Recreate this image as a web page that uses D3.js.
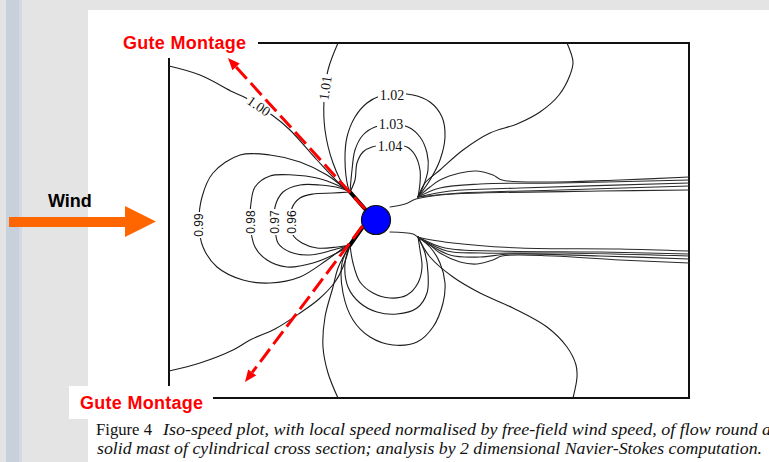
<!DOCTYPE html>
<html><head><meta charset="utf-8">
<script src="https://cdn.jsdelivr.net/npm/d3@7"></script>
<style>html,body{margin:0;padding:0;background:#e5e5e5;overflow:hidden}</style>
</head><body>
<svg id="c" width="769" height="462"></svg>
<script>
// ---- data (plot units: cylinder centre at 0,0) ----
const xDomain = [-20.7, 31.3];
const yDomain = [-17.8, 17.7];
const cylinder = {x: 0, y: 0, r: 1.45};

const line100U = [[-20.7,15.4],[-17.6,14.5],[-14.3,12.8],[-13.0,12.2],[-11.7,11.3],[-10.4,10.5],[-8.6,9.0],[-5.9,6.0],[-3.3,3.3],[-2.6,2.8]];
const line101U = [[-3.8,17.7],[-4.8,15.0],[-5.2,12.0],[-5.1,9.0],[-4.3,5.7],[-3.0,3.1],[-2.6,2.8]];
const line102U = [[-2.6,2.8],[-2.8,3.3],[-3.1,6.0],[-2.9,8.3],[-2.1,10.3],[-0.9,11.7],[0.4,12.4],[1.6,12.6],[3.7,12.5],[5.4,11.8],[6.6,10.3],[6.9,8.3],[6.4,6.0],[5.4,4.0],[4.2,2.3]];
const line103U = [[-2.6,2.8],[-2.4,5.0],[-2.1,7.0],[-1.3,8.5],[-0.1,9.3],[1.5,9.6],[3.2,9.3],[4.4,8.3],[5.1,6.7],[5.2,5.0],[4.7,3.3],[4.2,2.3]];
const line104U = [[-2.6,2.8],[-2.1,4.0],[-1.9,5.7],[-1.3,6.8],[-0.4,7.3],[1.4,7.5],[3.1,7.3],[3.9,6.5],[4.4,5.0],[4.4,3.7],[4.2,2.3]];
const line101RU = [[4.2,2.3],[4.9,3.7],[6.4,5.0],[8.7,7.0],[11.4,8.7],[14.1,9.6],[16.4,10.8],[18.3,12.5],[19.4,14.5],[19.7,15.8],[19.1,17.7]];

const line100L = [[-2.6,-2.5],[-3.3,-4.7],[-4.1,-6.2],[-5.7,-7.9],[-7.6,-9.3],[-10.1,-10.9],[-12.6,-12.0],[-14.3,-13.0],[-17.6,-14.3],[-20.7,-15.1]];
const line101L = [[-2.6,-2.5],[-3.8,-4.8],[-4.3,-6.7],[-5.1,-9.7],[-5.3,-12.7],[-4.8,-15.3],[-3.8,-17.8]];
const line102L = [[-2.6,-2.5],[-3.4,-4.3],[-3.3,-7.3],[-2.3,-10.0],[-0.6,-11.7],[1.7,-12.5],[4.1,-12.2],[5.7,-10.7],[6.7,-8.3],[6.9,-6.3],[6.4,-4.3],[5.4,-2.7],[4.2,-1.7]];
const line103L = [[-2.6,-2.5],[-3.1,-4.3],[-2.8,-6.7],[-1.6,-8.3],[0.1,-9.2],[2.1,-9.4],[4.1,-8.8],[5.1,-7.3],[5.2,-5.3],[4.9,-3.3],[4.2,-1.7]];
const line104L = [[-2.6,-2.5],[-2.3,-4.3],[-1.6,-6.2],[-0.3,-7.3],[1.4,-7.8],[3.1,-7.5],[4.2,-6.3],[4.6,-4.7],[4.4,-3.0],[4.2,-1.7]];
const line101RL = [[4.2,-1.7],[5.4,-3.7],[7.7,-5.7],[10.4,-7.3],[13.7,-8.8],[17.1,-10.7],[19.1,-12.7],[20.0,-14.5],[20.1,-15.7],[19.7,-17.8]];

const line099 = [[-2.6,2.8],[-3.3,3.3],[-4.9,4.5],[-7.6,5.8],[-10.6,6.5],[-13.6,6.5],[-16.3,4.7],[-17.4,2.3],[-17.7,-0.5],[-17.3,-2.7],[-15.9,-4.7],[-13.3,-6.0],[-10.6,-6.3],[-7.6,-5.7],[-4.9,-4.0],[-3.1,-2.7],[-2.6,-2.5]];
const line098 = [[-2.6,2.8],[-3.9,3.5],[-5.9,4.2],[-8.3,4.5],[-10.6,4.4],[-12.1,3.3],[-12.5,1.7],[-12.6,-0.2],[-12.1,-2.7],[-10.9,-4.0],[-8.9,-4.7],[-6.3,-4.3],[-3.9,-3.3],[-2.6,-2.5]];
const line097 = [[-2.6,2.8],[-3.6,3.2],[-5.6,3.5],[-7.6,3.5],[-9.3,2.8],[-10.1,1.3],[-10.1,-0.2],[-9.8,-2.3],[-8.6,-3.2],[-6.6,-3.5],[-4.3,-3.0],[-2.6,-2.5]];
const line096 = [[-2.6,2.8],[-4.3,2.7],[-6.3,2.6],[-7.6,2.2],[-8.4,1.2],[-8.5,-0.2],[-8.3,-1.5],[-7.4,-2.3],[-5.9,-2.8],[-3.9,-2.7],[-2.6,-2.5]];

const wakeU1 = [[4.2,2.3],[5.4,3.3],[6.4,4.0],[8.4,4.7],[10.1,4.9],[11.7,4.5],[12.6,4.0],[17.7,3.8],[24.4,4.0],[31.3,4.3]];
const wakeU2 = [[4.2,2.3],[6.4,3.2],[10.4,3.6],[18.4,3.7],[31.3,4.0]];
const wakeU3 = [[4.2,2.3],[7.4,2.9],[14.4,3.2],[31.3,3.7]];
const wakeU4 = [[4.2,2.3],[8.4,2.7],[18.4,3.0],[31.3,3.4]];
const wakeU5 = [[1.4,1.3],[2.9,1.6],[4.0,2.1],[6.4,2.5],[10.4,2.7],[22.4,2.9],[31.3,3.0]];
const wakeL1 = [[4.2,-1.7],[5.4,-2.5],[6.4,-3.3],[8.4,-4.2],[10.1,-4.4],[11.7,-4.0],[12.6,-3.6],[17.7,-3.6],[24.4,-4.0],[31.3,-4.3]];
const wakeL2 = [[4.2,-1.7],[7.4,-3.5],[10.4,-3.7],[13.4,-3.4],[22.4,-3.6],[31.3,-3.9]];
const wakeL3 = [[4.2,-1.7],[6.9,-2.8],[12.4,-3.1],[22.4,-3.2],[31.3,-3.4]];
const wakeL4 = [[4.2,-1.7],[7.1,-3.1],[10.4,-3.3],[18.7,-3.3],[31.3,-3.6]];
const wakeL5 = [[1.4,-1.2],[3.7,-1.4],[4.2,-1.7],[7.7,-2.3],[14.4,-2.8],[24.4,-2.9],[31.2,-3.1]];

const stagnationU = [[-2.6,2.8],[-1.1,1.1]];
const stagnationL = [[-2.6,-2.5],[-1.4,-0.8]];

const arrowUpper = [[-1.1,1.1],[-14.8,16.2]];
const arrowLower = [[-1.35,-0.6],[-13.1,-16.2]];

const labelTexts = ["1.00","1.01","1.02","1.03","1.04","0.99","0.98","0.97","0.96"];
const labelX = [-11.7,-5.1,1.6,1.5,1.4,-17.75,-12.55,-10.1,-8.45];
const labelY = [11.4,13.2,12.5,9.6,7.4,-0.5,-0.2,-0.2,-0.2];

const annotationText = "Gute Montage";
const windText = "Wind";
const captionLead = "Figure 4";
const captionLine1 = "Iso-speed plot, with local speed normalised by free-field wind speed, of flow round a";
const captionLine2 = "solid mast of cylindrical cross section; analysis by 2 dimensional Navier-Stokes computation.";

// ---- drawing ----
const svg = d3.select("#c");
const x = d3.scaleLinear().domain(xDomain).range([169, 689]);
const y = d3.scaleLinear().domain(yDomain).range([398, 43]);

svg.append("rect").attr("width",769).attr("height",462).attr("fill","#e4e4e4");
svg.append("rect").attr("x",6).attr("y",0).attr("width",15).attr("height",462).attr("fill","#c7d0db");
svg.append("rect").attr("x",19).attr("y",0).attr("width",3).attr("height",462).attr("fill","#d3d9e0");
svg.append("rect").attr("x",88).attr("y",10).attr("width",681).attr("height",452).attr("fill","#fff");

svg.append("rect").attr("x",x(xDomain[0])).attr("y",y(yDomain[1]))
  .attr("width",x(xDomain[1])-x(xDomain[0])).attr("height",y(yDomain[0])-y(yDomain[1]))
  .attr("fill","none").attr("stroke","#111").attr("stroke-width",2);

const curve = d3.line().x(d=>x(d[0])).y(d=>y(d[1])).curve(d3.curveCatmullRom.alpha(0.5));
const g = svg.append("g").attr("fill","none").attr("stroke-linejoin","round").attr("stroke-linecap","round");

const mainLines = [line100U,line101U,line102U,line103U,line104U,line101RU,line100L,line101L,line102L,line103L,line104L,line101RL,line099,line098,line097,line096];
g.selectAll("path.c").data(mainLines).join("path").attr("class","c")
  .attr("d",curve).attr("stroke","#1c1c1c").attr("stroke-width",1.1);

const wakes = [wakeU1,wakeU2,wakeU3,wakeU4,wakeU5,wakeL1,wakeL2,wakeL3,wakeL4,wakeL5];
g.selectAll("path.w").data(wakes).join("path").attr("class","w")
  .attr("d",curve).attr("stroke","#2a2a2a").attr("stroke-width",1.1);

g.selectAll("path.s").data([stagnationU,stagnationL]).join("path").attr("class","s")
  .attr("d",d3.line().x(d=>x(d[0])).y(d=>y(d[1]))).attr("stroke","#000").attr("stroke-width",4);

// contour labels: white knock-out then text
const lab = svg.append("g");
labelTexts.forEach((t,i)=>{
  const upper = t.startsWith("1.");
  let rot = -90;
  if (t==="1.00") rot = 35;
  else if (t==="1.01") rot = -82;
  else if (upper) rot = 0;
  const gg = lab.append("g").attr("transform",`translate(${x(labelX[i])},${y(labelY[i])}) rotate(${rot})`);
  const w = upper ? 28 : 26, h = upper ? 11 : 9;
  gg.append("rect").attr("x",-w/2).attr("y",-h/2).attr("width",w).attr("height",h).attr("fill","#fff");
  gg.append("text")
    .attr("text-anchor","middle").attr("dy", upper ? 5 : 4.3)
    .attr("font-family", upper ? "Liberation Serif, serif" : "Liberation Sans, Arial, sans-serif")
    .attr("font-size", upper ? 14 : 12)
    .attr("fill","#111")
    .text(t);
});

svg.append("ellipse").attr("cx",x(cylinder.x)).attr("cy",y(cylinder.y))
  .attr("rx",x(cylinder.r)-x(0)).attr("ry",x(cylinder.r)-x(0))
  .attr("fill","#0000ff").attr("stroke","#111").attr("stroke-width",1.2);

svg.append("rect").attr("x",108).attr("y",24).attr("width",150).attr("height",34).attr("fill","#fff");
svg.append("rect").attr("x",69).attr("y",386).attr("width",144).attr("height",33).attr("fill","#fff");
svg.append("text").attr("x",123).attr("y",49).attr("font-family","Liberation Sans, Arial, sans-serif")
  .attr("font-weight","bold").attr("font-size",18).attr("fill","#ff0000").attr("textLength",123).text(annotationText);
svg.append("text").attr("x",80).attr("y",409).attr("font-family","Liberation Sans, Arial, sans-serif")
  .attr("font-weight","bold").attr("font-size",18).attr("fill","#ff0000").attr("textLength",123).text(annotationText);

[arrowUpper, arrowLower].forEach(a=>{
  const x0=x(a[0][0]), y0=y(a[0][1]), x1=x(a[1][0]), y1=y(a[1][1]);
  const ang = Math.atan2(y1-y0, x1-x0);
  const L = 12, W = 5;
  const bx = x1 - L*Math.cos(ang), by = y1 - L*Math.sin(ang);
  svg.append("line").attr("x1",x0).attr("y1",y0).attr("x2",bx).attr("y2",by)
    .attr("stroke","#ff0000").attr("stroke-width",3).attr("stroke-dasharray","16,6");
  const px = -Math.sin(ang), py = Math.cos(ang);
  svg.append("path").attr("d",`M${x1},${y1}L${bx+W*px},${by+W*py}L${bx-W*px},${by-W*py}Z`)
    .attr("fill","#ff0000");
});

svg.append("path").attr("d","M9,217L125,217L125,206L156,221.5L125,237L125,227L9,227Z").attr("fill","#ff6600");
svg.append("text").attr("x",48).attr("y",207).attr("font-family","Liberation Sans, Arial, sans-serif")
  .attr("font-weight","bold").attr("font-size",18).attr("fill","#000").text(windText);

const cap = svg.append("g").attr("font-family","Liberation Serif, 'Times New Roman', serif").attr("font-size",17.5).attr("fill","#111");
cap.append("text").attr("x",96).attr("y",435).attr("textLength",56).attr("lengthAdjust","spacingAndGlyphs").text(captionLead);
cap.append("text").attr("x",163).attr("y",435).attr("font-style","italic").attr("textLength",608).attr("lengthAdjust","spacingAndGlyphs").text(captionLine1);
cap.append("text").attr("x",97).attr("y",454).attr("font-style","italic").attr("textLength",665).attr("lengthAdjust","spacingAndGlyphs").text(captionLine2);
</script></body></html>
